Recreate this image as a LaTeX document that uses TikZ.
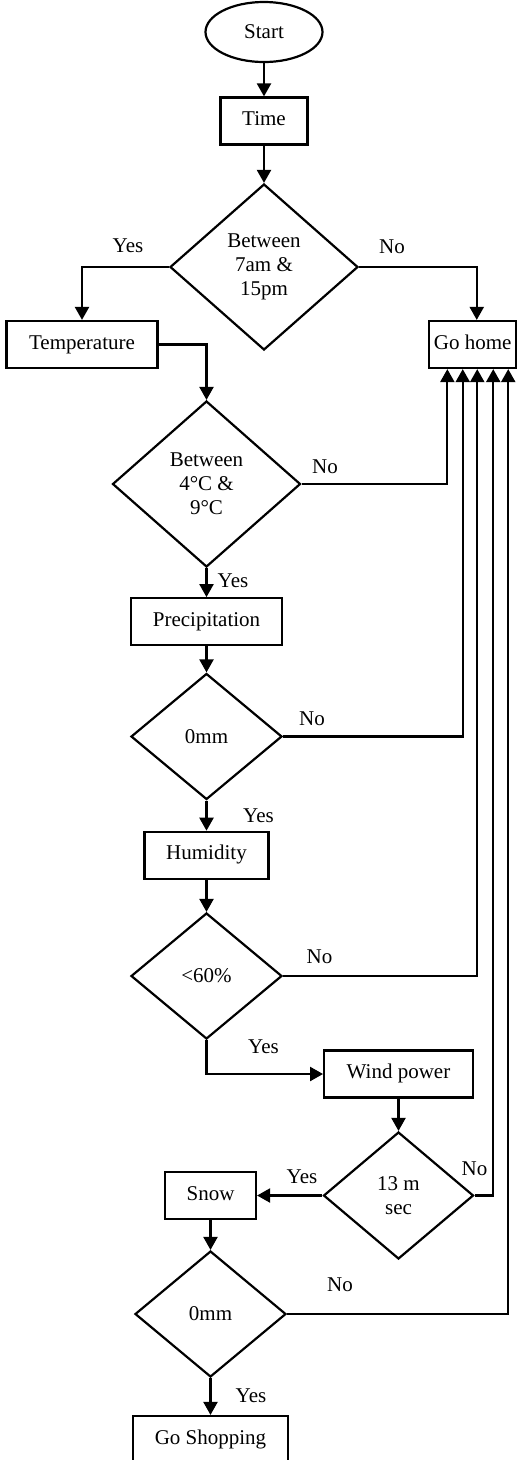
\documentclass[tikz,border=0pt]{standalone}
\usepackage{fontspec}
\setmainfont{Liberation Serif}
\usetikzlibrary{shapes.geometric,arrows.meta,calc}
\begin{document}
\begin{tikzpicture}[x=1pt,y=-1pt,
  every node/.style={font=\fontsize{21}{24}\selectfont},
  conn/.style={line width=2.2pt},
  arr/.style={conn,-{Triangle[length=13pt,width=14pt]}},
  procbox/.style={draw,line width=2.2pt,rectangle,minimum height=47pt,inner sep=0pt,text height=14pt,text depth=5pt},
  decision/.style={draw,line width=2.2pt,diamond,inner sep=0pt,align=center},
  terminal/.style={draw,line width=2.2pt,ellipse,minimum width=117pt,minimum height=60pt,inner sep=0pt},
  lbl/.style={inner sep=0pt}
]
\useasboundingbox (0,0) rectangle (517,1460);
\clip (0,0) rectangle (517,1460);
\fill[white] (0,0) rectangle (517,1460);

% nodes
\node[terminal] (start) at (264,32) {Start};
\node[procbox,minimum width=87pt] (time) at (264,121) {Time};
\node[decision,minimum width=188pt,minimum height=166pt,aspect=1.13] (d1) at (264,267) {Between\\7am \&\\15pm};
\node[procbox,minimum width=151pt] (temp) at (82,344.5) {Temperature};
\node[procbox,minimum width=87.5pt] (gohome) at (472.75,344.5) {Go home};
\node[decision,minimum width=188pt,minimum height=166pt,aspect=1.13] (d2) at (206.5,484) {Between\\4°C \&\\9°C};
\node[procbox,minimum width=151pt] (prec) at (206.5,621.7) {Precipitation};
\node[decision,minimum width=151pt,minimum height=126pt,aspect=1.2] (d3) at (206.5,736.5) {0mm};
\node[procbox,minimum width=124pt] (hum) at (206.5,855.3) {Humidity};
\node[decision,minimum width=151pt,minimum height=126pt,aspect=1.2] (d4) at (206.5,976) {<60\%};
\node[procbox,minimum width=148.7pt] (wind) at (398.5,1074) {Wind power};
\node[decision,minimum width=150pt,minimum height=127pt,aspect=1.18] (d5) at (398.5,1195.5) {13 m\\sec};
\node[procbox,minimum width=91pt] (snow) at (210.5,1195.5) {Snow};
\node[decision,minimum width=151pt,minimum height=126pt,aspect=1.2] (d6) at (210.5,1314) {0mm};
\node[procbox,minimum width=155pt] (shop) at (210.5,1439.5) {Go Shopping};

% labels
\node[lbl] (y1) at (128,246) {Yes};
\node[lbl] (n1) at (392,247) {No};
\node[lbl] (n2) at (325,467) {No};
\node[lbl] (y2) at (233,581) {Yes};
\node[lbl] (n3) at (312,719) {No};
\node[lbl] (y3) at (258.5,815.5) {Yes};
\node[lbl] (n4) at (319.5,956.5) {No};
\node[lbl] (y4) at (263.5,1046.5) {Yes};
\node[lbl] (n5) at (474.5,1168.3) {No};
\node[lbl] (y5) at (302,1177) {Yes};
\node[lbl] (n6) at (340,1285) {No};
\node[lbl] (y6) at (251,1396) {Yes};

% connectors
\draw[arr] (start) -- (time);
\draw[arr] (time) -- (d1);
\draw[arr] (d1.west) -| (temp.north);
\draw[arr] (d1.east) -| ([xshift=4pt]gohome.north);
\draw[arr] (temp.east) -| (d2.north);
\draw[arr] (d2.east) -| ([xshift=-25.4pt]gohome.south);
\draw[arr] (d2.south) -- (prec.north);
\draw[arr] (prec) -- (d3);
\draw[arr] (d3.east) -| ([xshift=-10pt]gohome.south);
\draw[arr] (d3.south) -- (hum.north);
\draw[arr] (hum) -- (d4);
\draw[arr] (d4.east) -| ([xshift=4.5pt]gohome.south);
\draw[arr] (d4.south) |- (wind.west);
\draw[arr] (wind) -- (d5);
\draw[arr] (d5.east) -| ([xshift=20.5pt]gohome.south);
\draw[arr] (d5.west) -- (snow.east);
\draw[arr] (snow) -- (d6);
\draw[arr] (d6.east) -| ([xshift=35.5pt]gohome.south);
\draw[arr] (d6.south) -- (shop.north);
\end{tikzpicture}
\end{document}
